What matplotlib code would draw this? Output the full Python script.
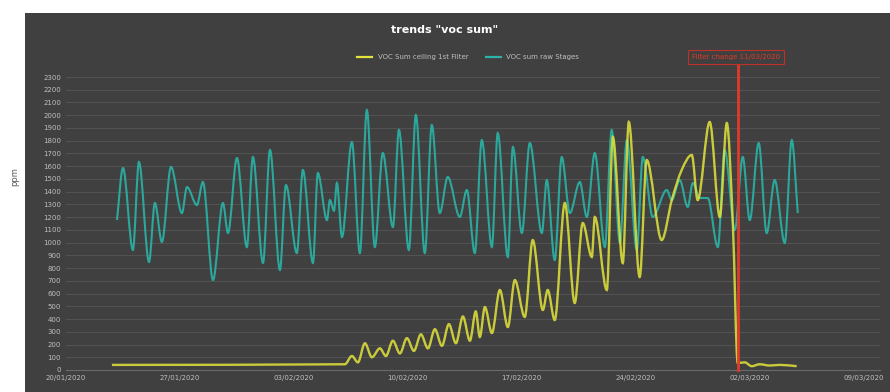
import numpy as np
import matplotlib
matplotlib.use('Agg')
import matplotlib.pyplot as plt
from matplotlib.patches import Rectangle, PathPatch
from matplotlib.path import Path
from matplotlib.lines import Line2D

# x in days from first date label
teal_t = [3.13, 3.50, 4.11, 4.48, 5.10, 5.46, 5.89, 6.45, 7.12, 7.43, 8.04, 8.41, 9.03, 9.64,
          9.95, 10.50, 11.11, 11.48, 12.10, 12.53, 13.14, 13.51, 14.18, 14.55, 15.17, 15.47,
          16.03, 16.21, 16.46, 16.64, 16.95, 17.56, 18.05, 18.48, 18.97, 19.46, 20.08, 20.45,
          21.06, 21.49, 22.04, 22.47, 22.96, 23.45, 24.19, 24.62, 25.11, 25.54, 26.16, 26.52,
          27.14, 27.45, 28.00, 28.49, 29.23, 29.53, 30.02, 30.45, 30.95, 31.56, 31.99, 32.48,
          33.10, 33.52, 34.02, 34.45, 35.06, 35.43, 36.04, 36.90, 37.21, 37.70, 38.19, 38.50,
          38.93, 39.42, 40.04, 40.46, 41.08, 41.57, 42.00, 42.55, 43.04, 43.53, 44.15, 44.58, 44.95]
teal_v = [1177, 1586, 942, 1633, 848, 1311, 1005, 1594, 1232, 1436, 1295, 1476, 706, 1311,
          1075, 1664, 965, 1672, 840, 1727, 785, 1452, 918, 1570, 840, 1546,
          1177, 1334, 1250, 1468, 1044, 1790, 918, 2041, 965, 1703, 1122, 1884,
          942, 2002, 918, 1923, 1232, 1515, 1201, 1413, 918, 1805, 965, 1860,
          887, 1750, 1075, 1782, 1075, 1491, 863, 1672, 1232, 1476, 1201, 1703,
          965, 1884, 997, 1805, 942, 1672, 1201, 1413, 1334, 1491, 1280, 1468,
          1350, 1350, 965, 1727, 1099, 1672, 1177, 1782, 1075, 1491, 997, 1805, 1232]

yel_t = [2.82, 17.13, 17.56, 17.93, 18.36, 18.79, 19.28, 19.65, 20.08, 20.51, 20.94, 21.37,
         21.80, 22.23, 22.66, 23.09, 23.52, 23.95, 24.38, 24.81, 25.17, 25.42, 25.73, 26.16,
         26.65, 27.14, 27.57, 28.18, 28.67, 29.29, 29.59, 30.02, 30.64, 31.25, 31.74, 32.30,
         32.48, 33.22, 33.59, 34.20, 34.57, 35.24, 35.67, 36.59, 37.21, 37.82, 38.44, 38.80,
         39.54, 40.16, 40.59, 40.96, 41.26, 41.69, 42.12, 42.61, 43.23, 43.84, 44.88]
yel_v = [40, 45, 110, 60, 210, 100, 170, 110, 230, 130, 250, 150,
         280, 170, 320, 190, 360, 210, 420, 230, 460, 259, 494, 290,
         628, 337, 706, 416, 1020, 471, 628, 392, 1311, 526, 1154, 887,
         1201, 628, 1829, 840, 1947, 730, 1648, 1020, 1334, 1570, 1688, 1334,
         1947, 1201, 1939, 1154, 55, 60, 30, 45, 35, 40, 30]

event_day = 41.26
date_labels = ['20/01/2020', '27/01/2020', '03/02/2020', '10/02/2020',
               '17/02/2020', '24/02/2020', '02/03/2020', '09/03/2020']
date_ticks = [0, 7, 14, 21, 28, 35, 42, 49]


def smooth_line(ax, x, y, **kw):
    # smoothed line like excel: cubic bezier through the points, monotone tangents
    x = np.asarray(x, float)
    y = np.asarray(y, float)
    d = np.diff(y) / np.diff(x)
    s = np.zeros(len(x))
    s[0], s[-1] = d[0], d[-1]
    for i in range(1, len(x) - 1):
        if d[i - 1] * d[i] > 0:
            central = (y[i + 1] - y[i - 1]) / (x[i + 1] - x[i - 1])
            s[i] = np.sign(central) * min(abs(central), 3 * min(abs(d[i - 1]), abs(d[i])))
    verts = [(x[0], y[0])]
    codes = [Path.MOVETO]
    for i in range(len(x) - 1):
        h = x[i + 1] - x[i]
        verts += [(x[i] + h / 3, y[i] + s[i] * h / 3),
                  (x[i + 1] - h / 3, y[i + 1] - s[i + 1] * h / 3),
                  (x[i + 1], y[i + 1])]
        codes += [Path.CURVE4] * 3
    ax.add_patch(PathPatch(Path(verts, codes), fill=False, **kw))


bg = '#404040'
teal = '#2ab3a6'
yellow = '#e3e43a'
fig = plt.figure(figsize=(8.9, 3.92), dpi=100)
fig.patch.set_facecolor('white')
fig.add_artist(Rectangle((25/890, 0), 1, 1 - 13/392, transform=fig.transFigure,
                         facecolor=bg, edgecolor='none', zorder=0))

ax = fig.add_axes([66/890, 22/392, 814/890, 293/392])
ax.set_facecolor(bg)
smooth_line(ax, teal_t, teal_v, edgecolor=teal, lw=1.5, alpha=0.9)
smooth_line(ax, yel_t, yel_v, edgecolor=yellow, lw=1.7, alpha=0.85)
ax.axvline(event_day, ymin=0, ymax=1.04, color='#e03a2a', lw=2, clip_on=False, zorder=5)

ax.set_xlim(0, 50)
ax.set_ylim(0, 2300)
ax.set_yticks(np.arange(0, 2301, 100))
ax.set_xticks(date_ticks)
ax.set_xticklabels(date_labels)
ax.tick_params(colors='#bfbfbf', labelsize=5, length=0)
ax.grid(axis='y', color='#565656', lw=0.6)
ax.set_axisbelow(True)
for s in ['top', 'right', 'left']:
    ax.spines[s].set_visible(False)
ax.spines['bottom'].set_color('#6a6a6a')

fig.text(445/890, 1 - 30/392, 'trends "voc sum"', color='white', fontsize=8,
         fontweight='bold', ha='center', va='center')
handles = [Line2D([], [], color=yellow, lw=1.6), Line2D([], [], color=teal, lw=1.6)]
labels = ['VOC Sum ceiling 1st Filter', 'VOC sum raw Stages']
leg = fig.legend(handles, labels, loc='center', bbox_to_anchor=(468/890, 1 - 57/392), ncol=2,
                 frameon=False, fontsize=5, handlelength=2.2, columnspacing=2.5)
for t in leg.get_texts():
    t.set_color('#bfbfbf')
fig.text(736/890, 1 - 57/392, 'Filter change 11/03/2020', color='#e03a2a', fontsize=5,
         ha='center', va='center',
         bbox=dict(facecolor=bg, edgecolor='#c0302a', lw=0.8, pad=3))
fig.text(15/890, 0.55, 'ppm', color='#595959', fontsize=6, rotation=90, ha='center', va='center')

plt.savefig('out.png', dpi=100, facecolor=fig.get_facecolor())
